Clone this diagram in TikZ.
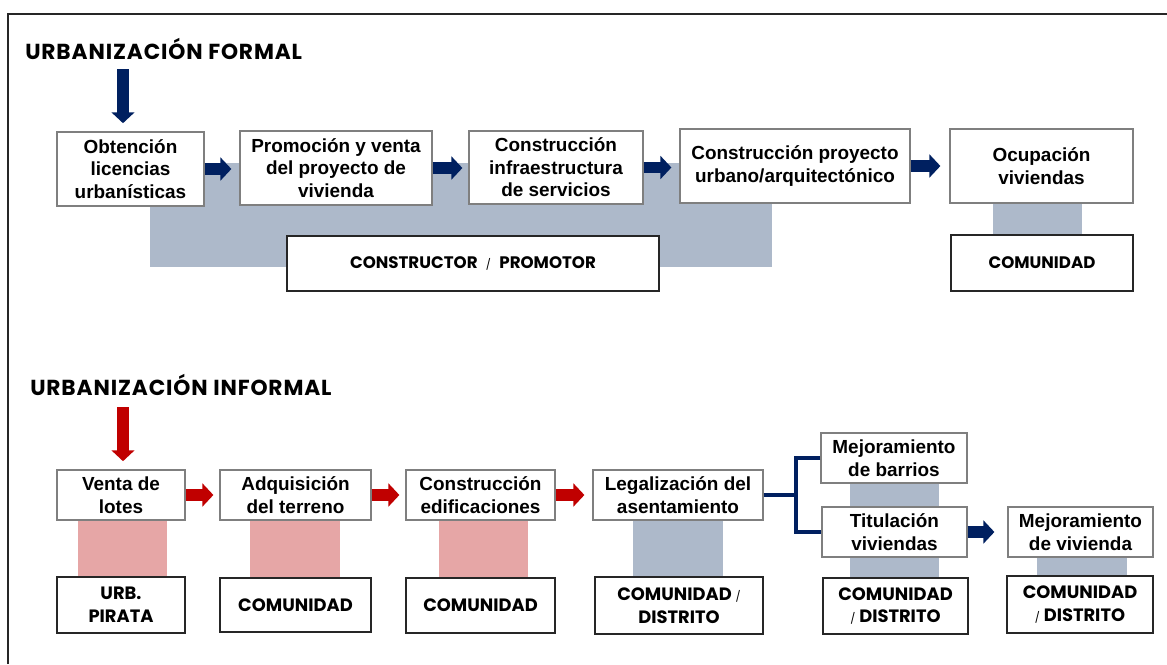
\documentclass[tikz,border=0pt]{standalone}
\usepackage{fontspec}
\setmainfont{Liberation Sans}
\newfontfamily\geo{Poppins}
\newfontfamily\geols{Poppins}[LetterSpace=4]
\usetikzlibrary{arrows.meta,backgrounds,calc}
\newdimen\px \px=0.75pt
\definecolor{navy}{HTML}{002060}
\definecolor{redc}{HTML}{C00000}
\definecolor{bandgray}{HTML}{ADB9CA}
\definecolor{bandpink}{HTML}{E6A6A6}
\definecolor{stepgray}{HTML}{7F7F7F}
\definecolor{framec}{HTML}{262626}
\newcommand{\smsl}{{\fontsize{8}{8}\selectfont\mdseries /}}
\begin{document}
\begin{tikzpicture}[x=0.75pt,y=-0.75pt,
  stepbox/.style={draw=stepgray, line width=0.9pt, fill=white, inner sep=0pt, align=center,
    font=\fontsize{14.2}{16.9}\selectfont\bfseries},
  rolebox/.style={draw=framec, line width=0.9pt, fill=white, inner sep=0pt, align=center,
    font=\geo\bfseries\fontsize{13.4}{17}\selectfont},
  roletop/.style={rolebox, font=\geo\bfseries\fontsize{12.5}{17}\selectfont},
  heading/.style={inner sep=0pt, font=\geols\bfseries\fontsize{16.3}{18}\selectfont},
  blockarrow/.style={line width=8.6pt, -{Triangle[length=8.2pt,width=17pt]}},
  bluearrow/.style={blockarrow, draw=navy},
  redarrow/.style={blockarrow, draw=redc},
  bline/.style={draw=navy, line width=2.4pt},
]
\useasboundingbox (0,0) rectangle (1167,664);
\draw[framec, line width=1.5pt] (8,664) -- (8,14) -- (1167,14);

% ---------- formal ----------
\node[heading, anchor=base west] (h1) at (25,59) {URBANIZACIÓN FORMAL};
\coordinate (fa) at (123,69);

\node[stepbox, minimum width=147\px, minimum height=74\px] (b1) at (130.5,169) {Obtención\\licencias\\urbanísticas};
\node[stepbox, minimum width=192\px, minimum height=74\px] (b2) at (336,168) {Promoción y venta\\del proyecto de\\vivienda};
\node[stepbox, minimum width=174\px, minimum height=73\px] (b3) at (556,167.5) {Construcción\\infraestructura\\de servicios};
\node[stepbox, minimum width=230\px, minimum height=74\px] (b4) at (795,166) {Construcción proyecto\\urbano/arquitectónico};
\node[stepbox, minimum width=183\px, minimum height=74\px] (b5) at (1041.5,166) {Ocupación\\viviendas};
\node[roletop, minimum width=372\px, minimum height=55\px] (r1) at (473,263.5) {CONSTRUCTOR\enspace\smsl\enspace PROMOTOR};
\node[roletop, minimum width=182\px, minimum height=56\px] (r2) at (1042,263) {COMUNIDAD};

% ---------- informal ----------
\node[heading, anchor=base west] (h2) at (30,395) {URBANIZACIÓN INFORMAL};
\coordinate (ia) at (123,407);

\node[stepbox, minimum width=128\px, minimum height=50\px] (c1) at (121,495) {Venta de\\lotes};
\node[stepbox, minimum width=151\px, minimum height=50\px] (c2) at (295.5,495) {Adquisición\\del terreno};
\node[stepbox, minimum width=149\px, minimum height=50\px] (c3) at (480.5,495) {Construcción\\edificaciones};
\node[stepbox, minimum width=170\px, minimum height=50\px] (c4) at (678,495) {Legalización del\\asentamiento};
\node[stepbox, minimum width=146\px, minimum height=50\px] (c5) at (894,458) {Mejoramiento\\de barrios};
\node[stepbox, minimum width=145\px, minimum height=50\px] (c6) at (894.5,532) {Titulación\\viviendas};
\node[stepbox, minimum width=145\px, minimum height=50\px] (c7) at (1080.5,532) {Mejoramiento\\de vivienda};

\node[rolebox, minimum width=128\px, minimum height=56\px] (d1) at (121,605) {URB.\\PIRATA};
\node[rolebox, minimum width=151\px, minimum height=54\px] (d2) at (295.5,605) {COMUNIDAD};
\node[rolebox, minimum width=149\px, minimum height=55\px] (d3) at (480.5,605.5) {COMUNIDAD};
\node[rolebox, minimum width=168\px, minimum height=57\px] (d4) at (679,605.5) {COMUNIDAD \smsl\\DISTRITO};
\node[rolebox, minimum width=145\px, minimum height=56\px] (d5) at (895.5,606) {COMUNIDAD\\\smsl{} DISTRITO};
\node[rolebox, minimum width=146\px, minimum height=57\px] (d6) at (1080,604.5) {COMUNIDAD\\\smsl{} DISTRITO};

% ---------- bands ----------
\begin{pgfonlayer}{background}
  \fill[bandgray] (150,163) rectangle (772,267);
  \fill[bandgray] ($(b5.south)+(-49,0)$) rectangle ($(r2.north)+(40,0)$);
  \fill[bandpink] ($(c1.south)+(-43,0)$) rectangle ($(d1.north)+(46,0)$);
  \fill[bandpink] ($(c2.south)+(-45.5,0)$) rectangle ($(d2.north)+(44.5,0)$);
  \fill[bandpink] ($(c3.south)+(-41.5,0)$) rectangle ($(d3.north)+(47.5,0)$);
  \fill[bandgray] ($(c4.south)+(-45,0)$) rectangle ($(d4.north)+(44,0)$);
  \fill[bandgray] ($(c5.south)+(-44,0)$) rectangle ($(d5.north)+(43.5,0)$);
  \fill[bandgray] ($(c7.south)+(-43.5,0)$) rectangle ($(d6.north)+(47,0)$);
\end{pgfonlayer}

% ---------- arrows ----------
\draw[bluearrow, shorten >=8.2\px] (fa) -- (fa |- b1.north);
\draw[bluearrow, shorten >=8\px] (b1.east) -- (b1.east -| b2.west);
\draw[bluearrow, shorten >=6\px] (b2.east) -- (b2.east -| b3.west);
\draw[bluearrow, shorten >=8\px] (b3.east) -- (b3.east -| b4.west);
\draw[bluearrow, shorten >=9\px] (b4.east) -- (b4.east -| b5.west);

\draw[redarrow, shorten >=8.2\px] (ia) -- (ia |- c1.north);
\draw[redarrow, shorten >=6\px] (c1.east) -- (c2.west);
\draw[redarrow, shorten >=6\px] (c2.east) -- (c3.west);
\draw[redarrow, shorten >=8\px] (c3.east) -- (c4.west);
\draw[bluearrow, shorten >=13\px] (c6.east) -- (c7.west);

\coordinate (jx) at (796,495);
\draw[bline] (c4.east) -- (jx);
\draw[bline] (c5.west) -| (jx) |- (c6.west);
\end{tikzpicture}
\end{document}
